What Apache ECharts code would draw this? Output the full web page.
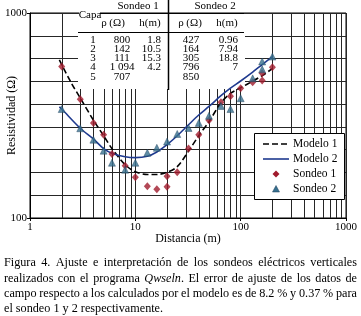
<!DOCTYPE html>
<html><head><meta charset="utf-8">
<script src="https://cdn.jsdelivr.net/npm/echarts@6/dist/echarts.min.js"></script>
<style>html,body{margin:0;padding:0;background:#fff}#c{width:361px;height:316px}</style>
</head><body><div id="c"></div>
<script>
// ---- data ----
const sondeo1X = [2, 3, 4, 5, 6, 8, 10, 13, 16, 20, 20, 25, 32, 40, 50, 65, 80, 100, 130, 160, 160, 200];
const sondeo1Y = [548, 380, 291, 255, 205, 180, 158, 143, 138, 142, 160, 167, 218, 255, 300, 367, 393, 429, 459, 469, 508, 543];
const sondeo2X = [2, 3, 4, 5, 6, 8, 10, 13, 16, 20, 25, 32, 40, 50, 65, 80, 100, 130, 160, 160, 200];
const sondeo2Y = [340, 274, 241, 213, 186, 172, 186, 208, 220, 236, 257, 275, 291, 315, 352, 340, 384, 480, 531, 580, 613];
const modelo1X = [1.9, 2, 2.5, 3, 4, 5, 6, 8, 10, 13, 16, 20, 25, 32, 40, 50, 65, 80, 100, 130, 160, 200];
const modelo1Y = [590, 560, 450, 385, 300, 252, 218, 182, 168, 163, 163, 167, 178, 212, 252, 295, 365, 405, 432, 465, 495, 535];
const modelo2X = [1.9, 2, 3, 4, 5, 6, 8, 10, 13, 16, 20, 25, 32, 40, 50, 65, 80, 100, 130, 160, 200];
const modelo2Y = [348, 340, 274, 243, 218, 207, 199, 197, 200, 210, 228, 252, 285, 318, 350, 395, 430, 466, 515, 560, 612];
const xMinorGrid = [2,3,4,5,6,7,8,9,20,30,40,50,60,70,80,90,200,300,400,500,600,700,800,900];
const seriesNames = ['Modelo 1', 'Modelo 2', 'Sondeo 1', 'Sondeo 2'];
const tableCapa = ['1', '2', '3', '4', '5'];
const tableRho1 = ['800', '142', '111', '1 094', '707'];
const tableH1 = ['1.8', '10.5', '15.3', '4.2', ''];
const tableRho2 = ['427', '164', '305', '796', '850'];
const tableH2 = ['0.96', '7.94', '18.8', '7', ''];
const captionLines = [
  'Figura 4. Ajuste e interpretación de los sondeos eléctricos verticales',
  'realizados con el programa Qwseln. El error de ajuste de los datos de',
  'campo respecto a los calculados por el modelo es de 8.2 % y 0.37 % para',
  'el sondeo 1 y 2 respectivamente.'
];

// ---- layout ----
const FONT = 'Liberation Serif';
const L = 30, T = 13, W = 316, H = 205;
const zip = (a, b) => a.map((v, i) => [v, b[i]]);
const graphics = [];
function txt(x, y, s, o) {
  o = o || {};
  graphics.push({type: 'text', x: x, y: y, z: o.z || 20, style: Object.assign({
    text: s, fontFamily: FONT, fontSize: o.fs || 11, fill: '#000',
    align: o.align || 'center', verticalAlign: 'middle'}, o.style || {})});
}
function line(x1, y1, x2, y2, w, z) {
  graphics.push({type: 'line', z: z || 20, shape: {x1, y1, x2, y2}, style: {stroke: '#000', lineWidth: w || 1}});
}
// table background
graphics.push({type: 'rect', z: 1, shape: {x: 78, y: 14, width: 167, height: 75}, style: {fill: '#fff'}});
graphics.push({type: 'rect', z: 1, shape: {x: 79, y: 8, width: 21, height: 12}, style: {fill: '#fff'}});
txt(138, 6, 'Sondeo 1');
txt(215, 6, 'Sondeo 2');
txt(90, 15, 'Capa');
line(100, 13.5, 244, 13.5, 1);
line(168.5, 0, 168.5, 90, 1.5);
txt(113, 23, 'ρ (Ω)'); txt(150, 23, 'h(m)'); txt(190, 23, 'ρ (Ω)'); txt(227, 23, 'h(m)');
line(78, 32.5, 244, 32.5, 1);
const rowY0 = 40, rowDy = 9.2;
tableCapa.forEach((v, i) => {
  const y = rowY0 + i * rowDy;
  txt(93, y, v);
  txt(122, y, tableRho1[i]);
  txt(161, y, tableH1[i], {align: 'right'});
  txt(191, y, tableRho2[i]);
  txt(238, y, tableH2[i], {align: 'right'});
});
// legend
graphics.push({type: 'rect', z: 15, shape: {x: 254.5, y: 133.5, width: 90, height: 66}, style: {fill: '#fff', stroke: '#000', lineWidth: 1}});
const legY = [144, 159, 174, 189];
graphics.push({type: 'line', z: 20, shape: {x1: 263, y1: legY[0], x2: 289, y2: legY[0]}, style: {stroke: '#000', lineWidth: 1.6, lineDash: [6, 3]}});
graphics.push({type: 'line', z: 20, shape: {x1: 263, y1: legY[1], x2: 289, y2: legY[1]}, style: {stroke: '#1f3a8f', lineWidth: 1.6}});
graphics.push({type: 'polygon', z: 20, shape: {points: [[276, legY[2]-3.5], [279.5, legY[2]], [276, legY[2]+3.5], [272.5, legY[2]]]}, style: {fill: '#a01a2c'}});
graphics.push({type: 'polygon', z: 20, shape: {points: [[276, legY[3]-3.5], [279.5, legY[3]+3], [272.5, legY[3]+3]]}, style: {fill: '#37708f', stroke: '#1d3f5a', lineWidth: 0.5}});
seriesNames.forEach((n, i) => txt(293, legY[i], n, {align: 'left', fs: 11.5}));

// caption, justified
const CAP_FS = 12.2, capX0 = 4, capX1 = 357, capY = [263, 279, 294, 309];
const mctx = document.createElement('canvas').getContext('2d');
function meas(s, it) { mctx.font = (it ? 'italic ' : '') + CAP_FS + 'px "' + FONT + '"'; return mctx.measureText(s).width; }
captionLines.forEach((ln, li) => {
  const words = ln.split(' ');
  const wd = words.map(w => w.startsWith('Qwseln') ? meas('Qwseln', true) + meas(w.slice(6)) : meas(w));
  const tot = wd.reduce((a, b) => a + b, 0);
  const justify = li < captionLines.length - 1;
  const gap = justify ? (capX1 - capX0 - tot) / (words.length - 1) : meas(' ');
  let x = capX0;
  words.forEach((w, i) => {
    const it = w.startsWith('Qwseln');
    txt(x, capY[li], it ? '{i|Qwseln}' + w.slice(6) : w, {align: 'left', fs: CAP_FS,
      style: it ? {rich: {i: {fontStyle: 'italic', fontFamily: FONT, fontSize: CAP_FS, fill: '#000'}}} : {}});
    x += wd[i] + gap;
  });
});

const chart = echarts.init(document.getElementById('c'), null, {renderer: 'canvas', width: 361, height: 316});
const gridColor = '#262626';
chart.setOption({
  animation: false,
  textStyle: {fontFamily: FONT},
  grid: {left: L, top: T, width: W, height: H, show: true, borderColor: '#000', borderWidth: 1, backgroundColor: '#fff',
    containLabel: false, outerBoundsMode: 'none'},
  xAxis: {type: 'log', logBase: 10, min: 1, max: 1000,
    axisLine: {lineStyle: {color: '#000'}}, axisTick: {length: 3, lineStyle: {color: '#000'}},
    axisLabel: {color: '#000', fontSize: 11, fontFamily: FONT, margin: 4, formatter: v => String(Math.round(v))},
    splitLine: {show: true, lineStyle: {color: gridColor}},
    name: 'Distancia (m)', nameLocation: 'middle', nameGap: 15, nameMoveOverlap: false,
    nameTextStyle: {color: '#000', fontSize: 12, fontFamily: FONT}},
  yAxis: [
    {type: 'log', logBase: 10, min: 100, max: 1000,
      axisLine: {lineStyle: {color: '#000'}}, axisTick: {length: 3, lineStyle: {color: '#000'}},
      axisLabel: {color: '#000', fontSize: 11, fontFamily: FONT, margin: 3, formatter: v => String(Math.round(v))},
      splitLine: {show: false},
      name: 'Resistividad (Ω)', nameLocation: 'middle', nameGap: 12, nameMoveOverlap: false,
      nameTextStyle: {color: '#000', fontSize: 12, fontFamily: FONT}},
    {type: 'value', min: 0, max: 9, interval: 1, position: 'right',
      axisLine: {show: false}, axisTick: {show: false}, axisLabel: {show: false},
      splitLine: {show: true, lineStyle: {color: gridColor}}}
  ],
  series: [
    {type: 'custom', z: 0, silent: true, data: xMinorGrid.map(v => [v, 100]),
      renderItem: (p, api) => {
        const a = api.coord([api.value(0), 1000]), b = api.coord([api.value(0), 100]);
        const x = Math.round(a[0]) + 0.5;
        return {type: 'line', shape: {x1: x, y1: a[1], x2: x, y2: b[1]}, style: {stroke: gridColor, lineWidth: 1}};
      }},
    {name: seriesNames[0], type: 'line', z: 5, data: zip(modelo1X, modelo1Y), symbol: 'none', smooth: 0.3,
      lineStyle: {color: '#000', width: 1.6, type: [6, 3]}},
    {name: seriesNames[1], type: 'line', z: 5, data: zip(modelo2X, modelo2Y), symbol: 'none', smooth: 0.3,
      lineStyle: {color: '#1f3a8f', width: 1.6}},
    {name: seriesNames[2], type: 'scatter', z: 6, data: zip(sondeo1X, sondeo1Y), symbol: 'diamond', symbolSize: [7, 8],
      itemStyle: {color: '#a01a2c'}},
    {name: seriesNames[3], type: 'scatter', z: 6, data: zip(sondeo2X, sondeo2Y), symbol: 'triangle', symbolSize: [7, 7],
      itemStyle: {color: '#37708f', borderColor: '#1d3f5a', borderWidth: 0.5}}
  ],
  graphic: {elements: graphics}
});
</script></body></html>
